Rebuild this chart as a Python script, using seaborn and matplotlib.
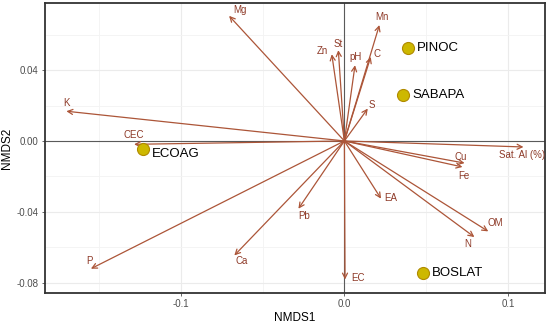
import numpy as np
import pandas as pd
import matplotlib
matplotlib.use("Agg")
import matplotlib.pyplot as plt
import seaborn as sns

# Environmental vectors (arrow tips in NMDS space)
vec_names = ["Mg", "K", "CEC", "Mn", "C", "pH", "St", "Zn", "S", "Sat. Al (%)",
             "Cu", "Fe", "EA", "Pb", "Ca", "P", "EC", "N", "OM"]
vec_x = [-0.0705, -0.170, -0.1286, 0.0214, 0.0161, 0.0065, -0.0037, -0.0077, 0.0143, 0.1095,
         0.0735, 0.0722, 0.0224, -0.0281, -0.0673, -0.155, 0.0004, 0.0795, 0.088]
vec_y = [0.0707, 0.0168, -0.0019, 0.0655, 0.0475, 0.0428, 0.0513, 0.049, 0.0183, -0.0034,
         -0.0125, -0.0147, -0.0326, -0.0383, -0.0647, -0.0722, -0.0783, -0.0543, -0.0511]

# Site scores
site_names = ["PINOC", "SABAPA", "ECOAG", "BOSLAT"]
site_x = [0.0391, 0.0361, -0.123, 0.0483]
site_y = [0.0523, 0.0259, -0.0047, -0.0745]

# label placement (pixels from arrow tip / point)
label_offsets = {
    "Mg": (11, 6), "K": (0, 8), "CEC": (0, 9), "Mn": (3, 8), "C": (6, 3),
    "pH": (1, 8), "St": (0, 6), "Zn": (-9, 3), "S": (4, 4), "Sat. Al (%)": (-1, -8),
    "Cu": (-4, 6), "Fe": (1, -9), "EA": (10, 1), "Pb": (6, -7), "Ca": (7, -6),
    "P": (-1, 8), "EC": (13, 2), "N": (-7, -7), "OM": (7, 8),
}
site_offsets = {"PINOC": (9, 0), "SABAPA": (9, 0), "ECOAG": (9, -5), "BOSLAT": (9, 0)}

vectors = pd.DataFrame({"var": vec_names, "NMDS1": vec_x, "NMDS2": vec_y})
sites = pd.DataFrame({"site": site_names, "NMDS1": site_x, "NMDS2": site_y})

sns.set_theme(style="whitegrid")
plt.rcParams["font.family"] = ["Liberation Sans", "DejaVu Sans"]

fig = plt.figure(figsize=(5.5, 3.25), dpi=100)
ax = fig.add_axes([0.082, 0.098, 0.909, 0.893])

arrow_col = "#AC5538"
text_col = "#8E3A28"

ax.axhline(0, color="#5A5A5A", lw=0.8, zorder=1)
ax.axvline(0, color="#5A5A5A", lw=0.8, zorder=1)

for _, r in vectors.iterrows():
    ax.annotate("", xy=(r.NMDS1, r.NMDS2), xytext=(0, 0),
                arrowprops=dict(arrowstyle="->", color=arrow_col, lw=0.9,
                                shrinkA=0, shrinkB=0, mutation_scale=9),
                zorder=3)
    dx, dy = label_offsets[r["var"]]
    ax.annotate(r["var"], xy=(r.NMDS1, r.NMDS2), xytext=(dx, dy),
                textcoords="offset pixels", ha="center", va="center",
                fontsize=7, color=text_col, zorder=4)

sns.scatterplot(data=sites, x="NMDS1", y="NMDS2", ax=ax, s=75,
                color="#CDB800", edgecolor="#B08A00", linewidth=0.8, zorder=5)
for _, r in sites.iterrows():
    dx, dy = site_offsets[r.site]
    ax.annotate(r.site, xy=(r.NMDS1, r.NMDS2), xytext=(dx, dy),
                textcoords="offset pixels", ha="left", va="center",
                fontsize=9.5, color="black", zorder=6)

ax.set_xlim(-0.183, 0.1227)
ax.set_ylim(-0.086, 0.078)
ax.set_xticks([-0.1, 0.0, 0.1])
ax.set_xticklabels(["-0.1", "0.0", "0.1"])
ax.set_yticks([-0.08, -0.04, 0.0, 0.04])
ax.set_yticklabels(["-0.08", "-0.04", "0.00", "0.04"])
ax.set_xticks([-0.15, -0.05, 0.05], minor=True)
ax.set_yticks([-0.06, -0.02, 0.02, 0.06], minor=True)
ax.grid(True, which="major", color="#EBEBEB", lw=0.8)
ax.grid(True, which="minor", color="#F3F3F3", lw=0.6)
ax.tick_params(axis="both", which="major", labelsize=7, labelcolor="#4D4D4D",
               length=2.5, width=0.6, color="#4D4D4D", pad=2, bottom=True, left=True)
ax.tick_params(axis="both", which="minor", length=0)

for s in ax.spines.values():
    s.set_color("#333333")
    s.set_linewidth(1.3)

ax.set_xlabel("NMDS1", fontsize=8.5, color="black", labelpad=2)
ax.set_ylabel("NMDS2", fontsize=8.5, color="black", labelpad=3)

fig.savefig("out.png", dpi=100)
